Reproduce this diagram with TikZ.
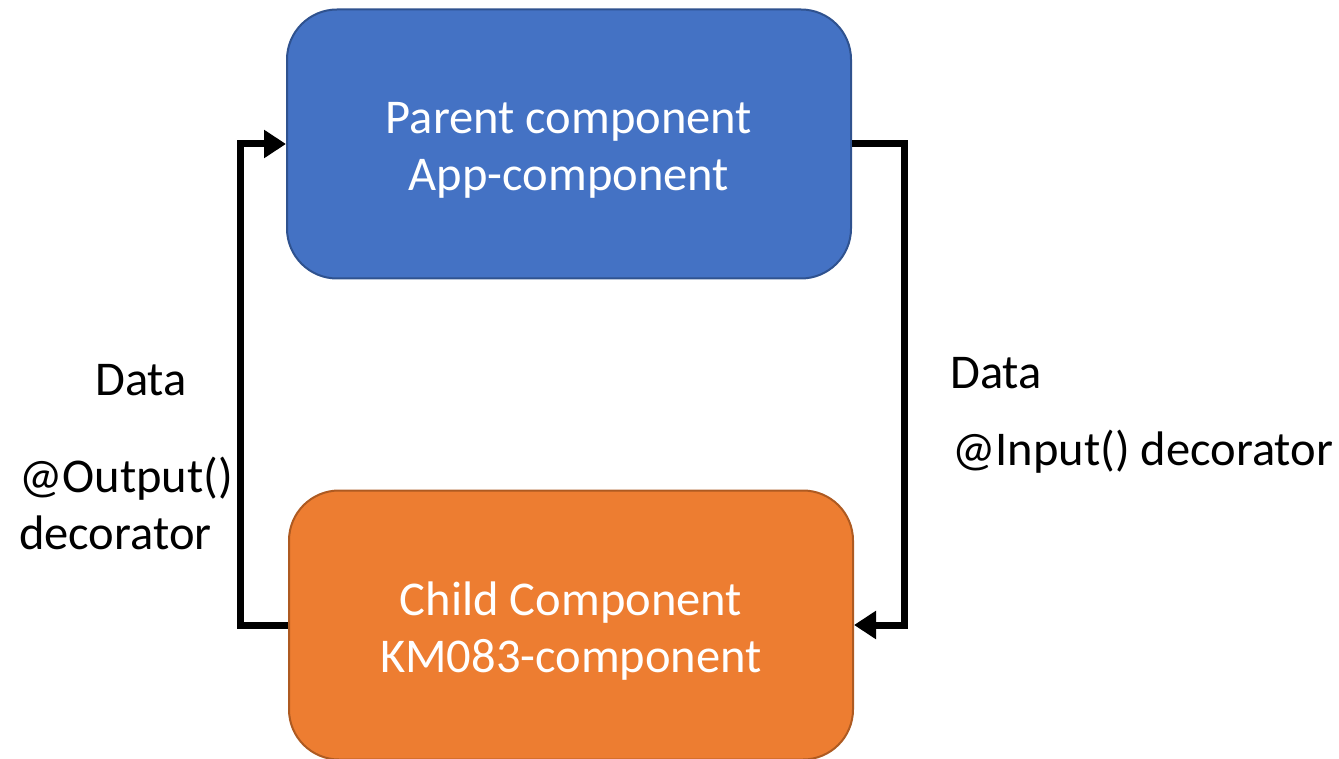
\documentclass[tikz,border=0pt]{standalone}
\usepackage{fontspec}
\setmainfont{Carlito}
\usetikzlibrary{arrows.meta}

\definecolor{parentblue}{HTML}{4472C4}
\definecolor{parentedge}{HTML}{2F528F}
\definecolor{childorange}{HTML}{ED7D31}
\definecolor{childedge}{HTML}{AE5A21}

\begin{document}
\begin{tikzpicture}[x=1pt,y=-1pt]
   \useasboundingbox (0,0) rectangle (1339,759);
   \fontsize{48.5}{57}\selectfont
   \tikzstyle{comp}=[rectangle, rounded corners=50pt, minimum width=564pt, minimum height=269pt, line width=2pt]
   \tikzstyle{title}=[text=white, align=center, yshift=-6pt]
   \tikzstyle{flow}=[line width=7pt, -{Triangle[length=22pt,width=27pt]}]
   \tikzstyle{lbl}=[anchor=west, inner sep=0pt, align=left]
   \node[comp, fill=parentblue, draw=parentedge] (parent) at (569,144) {};
   \node[title] (parenttext) at (parent.center) {Parent component\\App-component};
   \node[comp, fill=childorange, draw=childedge] (child) at (571,625) {};
   \node[title] (childtext) at (child.center) {Child Component\\KM083-component};
   % child -> parent on the left, parent -> child on the right
   \draw[flow] (child.west) -- ++(-48,0) |- (parent.west);
   \draw[flow] (parent.east) -- ++(52,0) |- (child.east);
   \node[lbl] (dataout) at (95,380) {Data};
   \node[lbl] (output) at (19,503) {@Output()\\decorator};
   \node[lbl] (datain) at (950,373) {Data};
   \node[lbl] (input) at (952,452) {@Input() decorator};
\end{tikzpicture}
\end{document}
